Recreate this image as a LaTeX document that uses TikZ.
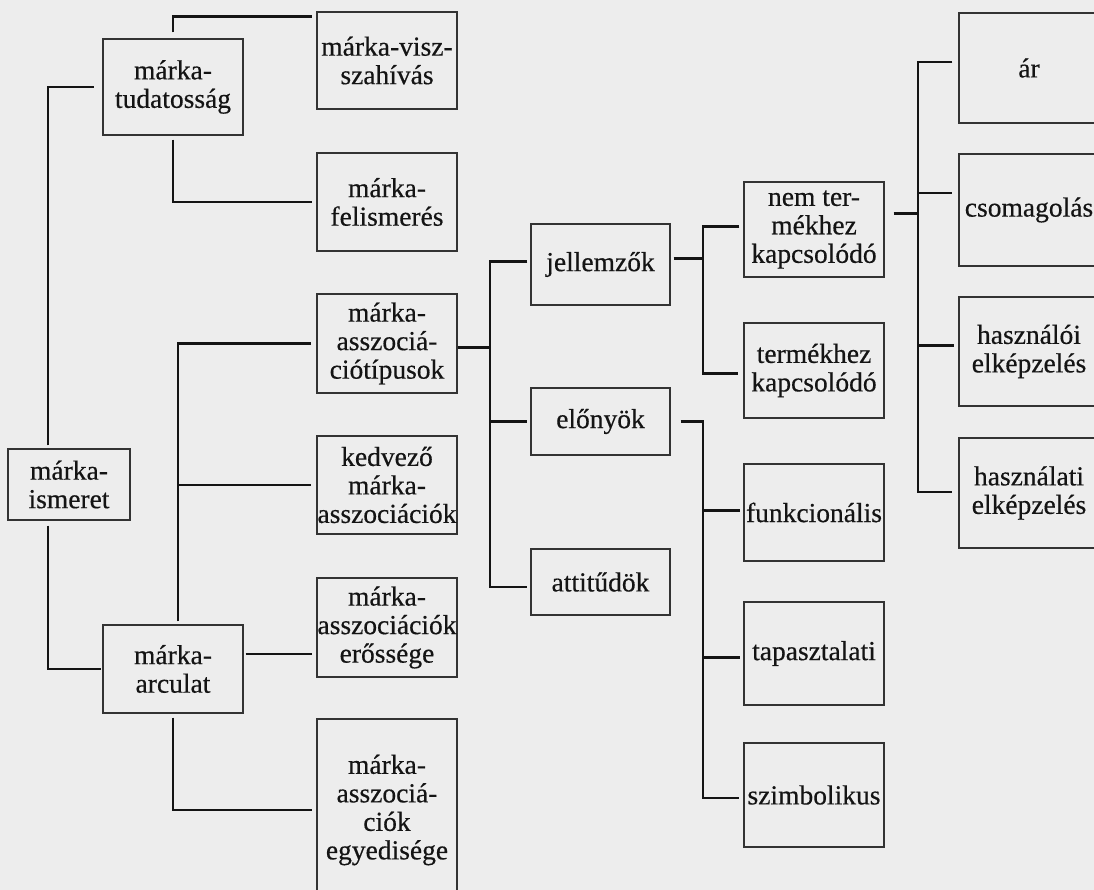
\documentclass[tikz,border=0pt]{standalone}
\usepackage{fontspec}
\setmainfont{Liberation Serif}[FakeBold=0.45]
\begin{document}
\begin{tikzpicture}[x=1pt,y=-1pt,
  box/.style={draw=black!80, line width=1.2pt, inner sep=0pt, align=center,
    text=black!92, font=\fontsize{27.5}{28.5}\selectfont},
  conn/.style={draw=black!92, line width=2.9pt}]
\useasboundingbox (0,0) rectangle (1094,890);
\fill[black!7] (0,0) rectangle (1094,890);
\clip (0,0) rectangle (1094,890);

% bus lines
\coordinate (b0) at (48,0);
\coordinate (b2) at (178,0);
\coordinate (b3) at (490,0);
\coordinate (b4) at (703,0);
\coordinate (b5) at (918,0);

% level 0 and 1
\node[box, minimum width=122pt, minimum height=71pt] (ism) at (69,484.5) {márka-\\ismeret};
\node[box, minimum width=140pt, minimum height=96pt] (tud) at (173,87) {márka-\\tudatosság};
\node[box, minimum width=140pt, minimum height=88pt] (arc) at (173,669) {márka-\\arculat};

% level 2
\node[box, minimum width=140pt, minimum height=97pt] (vis) at (387,60.5) {márka-visz-\\szahívás};
\node[box, minimum width=140pt, minimum height=98pt] (fel) at (387,202) {márka-\\felismerés};
\node[box, minimum width=140pt, minimum height=99pt] (typ) at (387,343.5) {márka-\\asszociá-\\ciótípusok};
\node[box, minimum width=140pt, minimum height=98pt] (ked) at (387,485) {kedvező\\márka-\\asszociációk};
\node[box, minimum width=140pt, minimum height=99pt] (ero) at (387,627.5) {márka-\\asszociációk\\erőssége};
\node[box, minimum width=140pt, minimum height=182pt] (egy) at (387,810) {márka-\\asszociá-\\ciók\\egyedisége};

% level 3
\node[box, minimum width=139pt, minimum height=81pt] (jel) at (600.5,264.5) {jellemzők};
\node[box, minimum width=139pt, minimum height=67pt] (elo) at (600.5,421.5) {előnyök};
\node[box, minimum width=139pt, minimum height=66pt] (att) at (600.5,582) {attitűdök};

% level 4
\node[box, minimum width=140pt, minimum height=95pt] (nem) at (814,229.5) {nem ter-\\mékhez\\kapcsolódó};
\node[box, minimum width=140pt, minimum height=95pt] (ter) at (814,370.5) {termékhez\\kapcsolódó};
\node[box, minimum width=140pt, minimum height=97pt] (fun) at (814,512.5) {funkcionális};
\node[box, minimum width=140pt, minimum height=103pt] (tap) at (814,653.5) {tapasztalati};
\node[box, minimum width=140pt, minimum height=104pt] (szi) at (814,795) {szimbolikus};

% level 5
\node[box, minimum width=140pt, minimum height=110pt] (ar) at (1029,68) {ár};
\node[box, minimum width=140pt, minimum height=112pt] (cso) at (1029,210) {csomagolás};
\node[box, minimum width=140pt, minimum height=109pt] (hz1) at (1029,351.5) {használói\\elképzelés};
\node[box, minimum width=140pt, minimum height=110pt] (hz2) at (1029,493) {használati\\elképzelés};

% márka-ismeret branches
\draw[conn] ([yshift=3pt]ism.north -| b0) |- ([xshift=-8pt]tud.west);
\draw[conn] ([yshift=-5pt]ism.south -| b0) |- ([xshift=-1pt]arc.west);

% márka-tudatosság branches
\draw[conn] ([yshift=6pt]tud.north) |- ([shift={(-4pt,-5pt)}]vis.north west);
\draw[conn] ([yshift=-4pt]tud.south) |- ([xshift=-4pt]fel.west);

% márka-arculat branches
\draw[conn] ([yshift=3pt]arc.north -| b2) |- ([xshift=-5pt]typ.west);
\draw[conn] (ked.west -| b2) -- ([xshift=-5pt]ked.west);
\draw[conn] ([shift={(2pt,15pt)}]arc.east) -- ([shift={(-4pt,15pt)}]arc.east -| ero.west);
\draw[conn] ([yshift=-4pt]arc.south) |- ([xshift=-4pt]egy.west);

% association types
\draw[conn] ([yshift=-4pt]typ.east) -- ([yshift=-4pt]typ.east -| b3);
\draw[conn] ([shift={(-3pt,3pt)}]jel.west) -| ([yshift=-5pt]att.west -| b3) -- ([shift={(-3pt,-5pt)}]att.west);
\draw[conn] (elo.west -| b3) -- ([xshift=-3pt]elo.west);

% characteristics
\draw[conn] ([shift={(3pt,6pt)}]jel.east) -- ([yshift=6pt]jel.east -| b4);
\draw[conn] ([shift={(-4pt,3pt)}]nem.west) -| ([yshift=-3pt]ter.west -| b4) -- ([shift={(-5pt,-3pt)}]ter.west);

% benefits
\draw[conn] ([xshift=10pt]elo.east) -| ([yshift=-3pt]szi.west -| b4) -- ([shift={(-4pt,-3pt)}]szi.west);
\draw[conn] ([yshift=2pt]fun.west -| b4) -- ([shift={(-3pt,2pt)}]fun.west);
\draw[conn] ([yshift=-4pt]tap.west -| b4) -- ([shift={(-3pt,-4pt)}]tap.west);

% non-product related
\draw[conn] ([shift={(9pt,16pt)}]nem.east) -- ([yshift=16pt]nem.east -| b5);
\draw[conn] ([shift={(-6pt,6pt)}]ar.west) -| ([yshift=1pt]hz2.west -| b5) -- ([shift={(-6pt,1pt)}]hz2.west);
\draw[conn] ([yshift=17pt]cso.west -| b5) -- ([shift={(-6pt,17pt)}]cso.west);
\draw[conn] ([yshift=6pt]hz1.west -| b5) -- ([shift={(-4pt,6pt)}]hz1.west);
\end{tikzpicture}
\end{document}
